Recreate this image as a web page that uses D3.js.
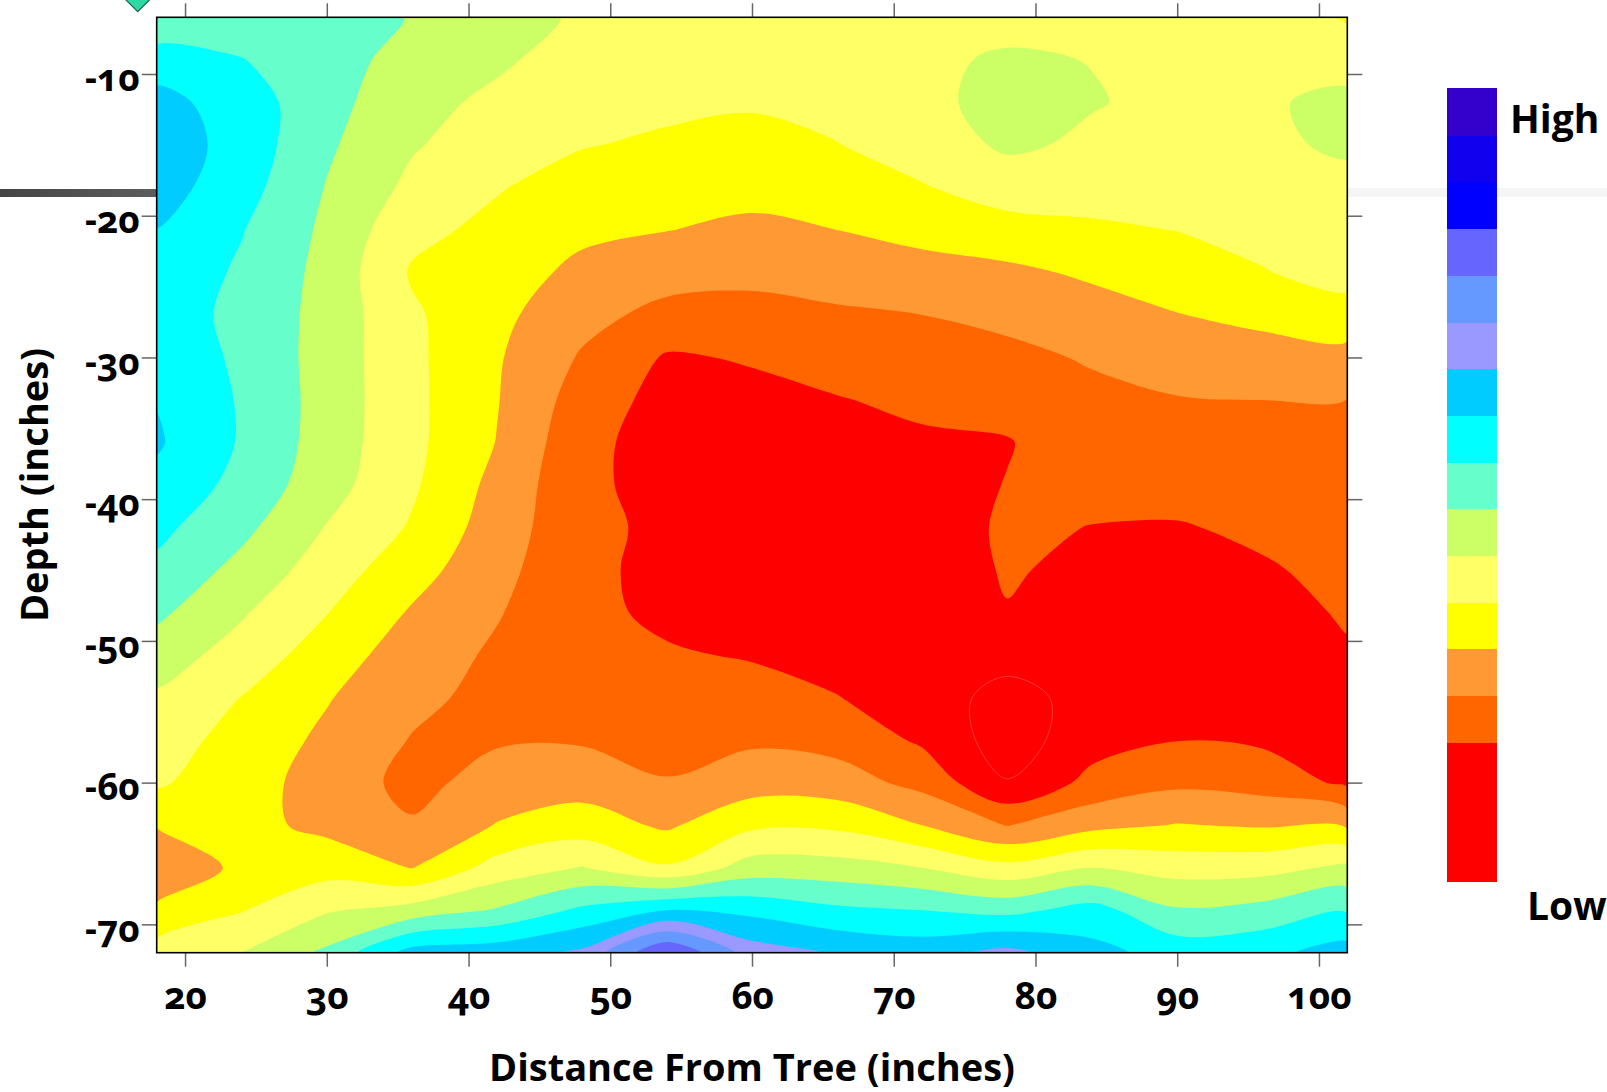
<!DOCTYPE html>
<html>
<head>
<meta charset="utf-8">
<script src="https://cdn.jsdelivr.net/npm/d3@7"></script>
<style>
  html, body { margin: 0; padding: 0; background: #fff; }
  svg { display: block; font-family: "Open Sans", "Noto Sans", sans-serif; font-weight: 700; }
</style>
</head>
<body>
<svg id="chart" width="1607" height="1092"></svg>
<script>
// Sampling grid: distance from the tree (columns) and depth (rows), in inches
const distances = [18, 24, 30, 36, 42, 48, 54, 60, 66, 72, 78, 84, 90, 96, 102];
const depths = [-6, -9, -12, -15, -18, -21, -24, -27, -30, -33, -36, -39, -42, -45, -48, -51, -54, -57, -60, -63, -66, -69, -72];

// Relative readings, one profile per distance, listed from the surface down
const p18  = [6.2, 7.44, 8.35, 8.6, 8.45, 7.98, 7.7, 7.5, 7.75, 7.95, 8.12, 7.7, 7.25, 6.76, 6.2, 5.47, 4.85, 4.5, 4.13, 3.05, 2.3, 3.15, 4.4];
const p24  = [6.5, 7.03, 7.5, 7.6, 7.4, 7.05, 6.85, 6.75, 6.8, 6.9, 6.9, 6.7, 6.25, 5.7, 5.1, 4.6, 3.98, 3.6, 3.4, 3.3, 3.2, 3.95, 5.02];
const p30  = [6.5, 6.45, 6.35, 6.15, 5.95, 5.8, 5.7, 5.65, 5.6, 5.6, 5.55, 5.4, 4.95, 4.5, 4.03, 3.5, 3.07, 2.8, 2.6, 2.75, 3.6, 4.9, 6.2];
const p36  = [5.95, 5.6, 5.3, 5.1, 4.77, 4.27, 3.9, 4.15, 4.22, 4.25, 4.25, 4.15, 3.9, 3.4, 2.9, 2.5, 2.25, 1.95, 1.7, 2.1, 2.97, 5.4, 8.4];
const p42  = [5.45, 5.15, 4.8, 4.45, 4.07, 3.75, 3.45, 3.25, 3.1, 3.05, 2.97, 2.7, 2.5, 2.3, 2.07, 1.85, 1.7, 1.9, 2.4, 3.05, 4.4, 6.1, 8.6];
const p48  = [4.85, 4.6, 4.4, 4.05, 3.6, 3.2, 2.77, 2.32, 1.9, 1.55, 1.3, 1.25, 1.3, 1.25, 1.25, 1.35, 1.5, 1.9, 2.6, 3.45, 5.05, 7.2, 9.2];
const p54  = [4.6, 4.45, 4.2, 3.85, 3.45, 3.02, 2.4, 1.7, 0.9, 0.65, 0.55, 0.6, 0.75, 0.7, 0.8, 1.1, 1.4, 1.7, 2.05, 2.85, 4.1, 8.0, 12.02];
const p60  = [4.65, 4.45, 4.1, 3.7, 3.3, 2.8, 2.25, 1.68, 1.08, 0.75, 0.55, 0.45, 0.45, 0.5, 0.65, 0.92, 1.4, 1.85, 2.55, 3.8, 5.45, 7.73, 9.5];
const p66  = [4.7, 4.55, 4.35, 3.97, 3.5, 3.0, 2.45, 1.85, 1.4, 0.95, 0.7, 0.5, 0.4, 0.4, 0.45, 0.65, 1.03, 1.65, 2.45, 3.8, 5.4, 7.2, 8.9];
const p72  = [4.75, 4.85, 4.85, 4.5, 3.93, 3.3, 2.64, 2.0, 1.6, 1.2, 0.85, 0.6, 0.45, 0.35, 0.3, 0.35, 0.5, 0.85, 1.7, 3.0, 5.0, 7.0, 8.6];
const p78  = [4.75, 5.1, 5.2, 5.15, 4.5, 3.6, 2.8, 2.25, 1.75, 1.3, 0.95, 1.03, 1.15, 1.1, 0.95, 0.35, -0.35, -0.5, 0.05, 1.96, 4.3, 6.7, 9.3];
const p84  = [4.7, 4.98, 5.05, 4.85, 4.4, 3.85, 3.15, 2.6, 2.1, 1.75, 1.5, 1.25, 0.98, 0.75, 0.45, 0.35, 0.35, 0.6, 1.3, 2.7, 5.0, 7.4, 8.3];
const p90  = [4.7, 4.75, 4.8, 4.7, 4.5, 4.02, 3.5, 2.97, 2.45, 1.95, 1.65, 1.35, 0.93, 0.6, 0.4, 0.35, 0.45, 0.98, 1.8, 3.05, 4.6, 6.1, 7.6];
const p96  = [4.7, 4.85, 4.9, 4.88, 4.55, 4.3, 3.95, 3.25, 2.6, 2.0, 1.75, 1.5, 1.18, 0.9, 0.65, 0.5, 0.55, 0.85, 1.6, 2.9, 4.65, 6.35, 7.75];
const p102 = [3.85, 4.65, 5.2, 5.1, 4.8, 4.6, 4.35, 3.58, 2.65, 1.98, 1.75, 1.55, 1.4, 1.25, 1.1, 0.9, 0.75, 0.7, 0.8, 2.8, 5.2, 6.9, 8.4];
const profiles = [p18, p24, p30, p36, p42, p48, p54, p60, p66, p72, p78, p84, p90, p96, p102];

// Contour levels and the fill of each band, from Low (red) to High (violet)
const levels = [-1, 0, 1, 2, 3, 4, 5, 6, 7, 8, 9, 10, 11, 12, 13, 14];
const bandColors = [
  "#FF0000", "#FF0000", "#FF0000", "#FF6600", "#FF9933", "#FFFF00", "#FFFF66",
  "#CCFF66", "#66FFCC", "#00FFFF", "#00CCFF", "#9999FF", "#6699FF", "#6666FF",
  "#0000FF", "#1100EE", "#3300CC"
];

const xTicks = [20, 30, 40, 50, 60, 70, 80, 90, 100];
const yTicks = [-10, -20, -30, -40, -50, -60, -70];

const svg = d3.select("#chart");
const plot = { left: 156.7, right: 1347.3, top: 17.3, bottom: 952.7 };

const x = d3.scaleLinear().domain([18, 102]).range([plot.left, plot.right]);
const y = d3.scaleLinear().domain([-6, -72]).range([plot.top, plot.bottom]);

// Decorative slider remnants around the figure
svg.append("rect").attr("x", plot.right).attr("y", 188).attr("width", 1607 - plot.right).attr("height", 9)
  .attr("fill", "#f5f5f5");
const grad = svg.append("defs").append("linearGradient").attr("id", "barGrad");
grad.append("stop").attr("offset", "0%").attr("stop-color", "#454545");
grad.append("stop").attr("offset", "100%").attr("stop-color", "#5d5d5d");
svg.append("rect").attr("x", 0).attr("y", 189).attr("width", plot.left).attr("height", 8)
  .attr("fill", "url(#barGrad)");
svg.append("path").attr("d", "M137.7,11.7 L125,-1 L137.7,-13.7 L150.4,-1 Z")
  .attr("fill", "#2fd9a3").attr("stroke", "#1d5e4a").attr("stroke-width", 1.2);

// Filled contours from the grid
const nx = distances.length, ny = depths.length;
const flat = new Array(nx * ny);
for (let j = 0; j < ny; j++) for (let i = 0; i < nx; i++) flat[j * nx + i] = profiles[i][j];

const contours = d3.contours().size([nx, ny]).thresholds(levels)(flat);
const dStep = distances[1] - distances[0];
const zStep = depths[1] - depths[0];

// Grid coordinates -> pixels; grid sample i sits at coordinate i + 0.5
function toPixel(cx, cy) {
  const u = Math.min(Math.max(cx, 0.5), nx - 0.5);
  const v = Math.min(Math.max(cy, 0.5), ny - 0.5);
  return [x(distances[0] + (u - 0.5) * dStep), y(depths[0] + (v - 0.5) * zStep)];
}
const ringLine = d3.line().curve(d3.curveCatmullRomClosed.alpha(0.5));
function contourPath(geom) {
  let s = "";
  for (const polygon of geom.coordinates) {
    for (const ring of polygon) {
      const pts = [];
      for (const [cx, cy] of ring.slice(0, -1)) {
        const p = toPixel(cx, cy);
        const last = pts[pts.length - 1];
        if (!last || Math.abs(last[0] - p[0]) > 0.05 || Math.abs(last[1] - p[1]) > 0.05) pts.push(p);
      }
      while (pts.length > 1 &&
             Math.abs(pts[0][0] - pts[pts.length - 1][0]) < 0.05 &&
             Math.abs(pts[0][1] - pts[pts.length - 1][1]) < 0.05) pts.pop();
      if (pts.length > 2) s += ringLine(pts);
    }
  }
  return s;
}

svg.append("clipPath").attr("id", "plotClip").append("rect")
  .attr("x", plot.left).attr("y", plot.top)
  .attr("width", plot.right - plot.left).attr("height", plot.bottom - plot.top);

const field = svg.append("g").attr("clip-path", "url(#plotClip)");
field.append("rect")
  .attr("x", plot.left).attr("y", plot.top)
  .attr("width", plot.right - plot.left).attr("height", plot.bottom - plot.top)
  .attr("fill", bandColors[0]);
field.selectAll("path.band").data(contours).join("path")
  .attr("class", "band")
  .attr("d", contourPath)
  .attr("fill-rule", "evenodd")
  .attr("fill", (d, i) => bandColors[i + 1])
  .attr("stroke", d => d.value === 0 ? "#ff4d4d" : "none")
  .attr("stroke-width", d => d.value === 0 ? 0.7 : 0);

// Axes: ticks on all four sides, labels on bottom and left
const tickColor = "#666";
function styleAxis(g) {
  g.select(".domain").remove();
  g.selectAll(".tick line").attr("stroke", tickColor).attr("stroke-width", 1.5);
  g.selectAll(".tick text")
    .attr("fill", "#000")
    .style("font-family", "'Open Sans', 'Noto Sans', sans-serif")
    .style("font-weight", 700)
    .style("font-size", "37px")
    .style("font-variant-numeric", "oldstyle-nums");
}
const plainNumber = d => String(d);

svg.append("g").attr("transform", `translate(0,${plot.bottom})`)
  .call(d3.axisBottom(x).tickValues(xTicks).tickSize(14).tickPadding(16).tickFormat(plainNumber))
  .call(styleAxis);
svg.append("g").attr("transform", `translate(0,${plot.top})`)
  .call(d3.axisTop(x).tickValues(xTicks).tickSize(14).tickFormat(""))
  .call(styleAxis);
const yAxisG = svg.append("g").attr("transform", `translate(${plot.left},0)`)
  .call(d3.axisLeft(y).tickValues(yTicks).tickSize(15).tickPadding(2).tickFormat(plainNumber))
  .call(styleAxis);
yAxisG.selectAll(".tick text").attr("dy", "0.45em");
svg.append("g").attr("transform", `translate(${plot.right},0)`)
  .call(d3.axisRight(y).tickValues(yTicks).tickSize(15).tickFormat(""))
  .call(styleAxis);

// Plot frame
svg.append("rect")
  .attr("x", plot.left).attr("y", plot.top)
  .attr("width", plot.right - plot.left).attr("height", plot.bottom - plot.top)
  .attr("fill", "none").attr("stroke", "#000").attr("stroke-width", 1.6);

// Axis titles
svg.append("text")
  .attr("x", (plot.left + plot.right) / 2).attr("y", 1081)
  .attr("text-anchor", "middle").attr("font-size", 38).attr("fill", "#000")
  .text("Distance From Tree (inches)");
svg.append("text")
  .attr("transform", `translate(48,${(plot.top + plot.bottom) / 2}) rotate(-90)`)
  .attr("text-anchor", "middle").attr("font-size", 38).attr("fill", "#000")
  .text("Depth (inches)");

// Colour key (lowest band at the bottom)
const key = { x: 1447, width: 50, top: 88, bottom: 882 };
const keyBand = d3.scaleBand().domain(d3.range(bandColors.length)).range([key.bottom, key.top]).paddingInner(0);
svg.append("g").attr("shape-rendering", "crispEdges")
  .selectAll("rect").data(bandColors).join("rect")
  .attr("x", key.x)
  .attr("y", (d, i) => keyBand(i))
  .attr("width", key.width)
  .attr("height", (d, i) => i === 0 ? keyBand.bandwidth() : keyBand.bandwidth() + 1)
  .attr("fill", d => d);

svg.append("text").attr("x", 1510).attr("y", 133)
  .attr("font-size", 39).attr("fill", "#000").text("High");
svg.append("text").attr("x", 1527).attr("y", 920)
  .attr("font-size", 39).attr("fill", "#000").text("Low");
</script>
</body>
</html>
